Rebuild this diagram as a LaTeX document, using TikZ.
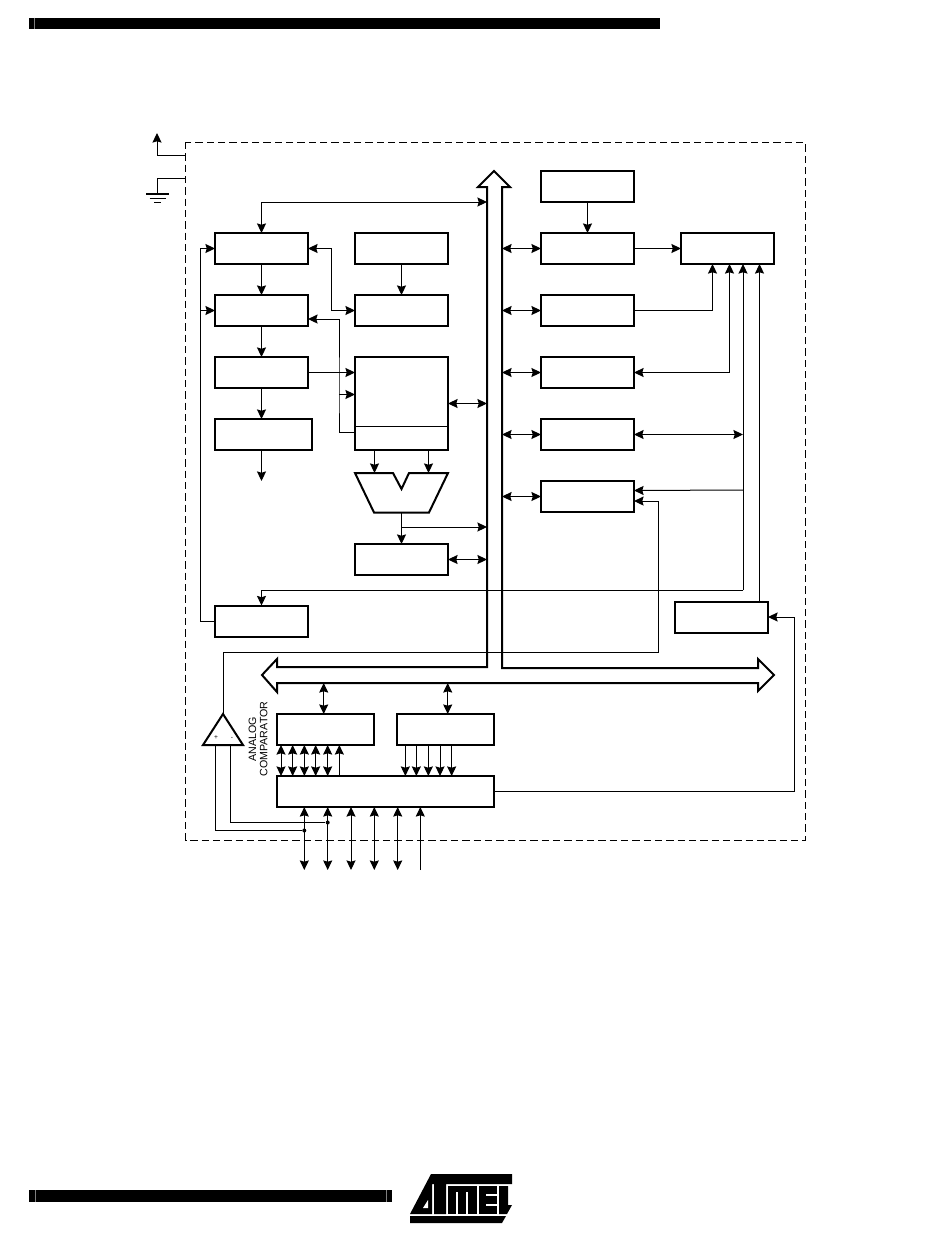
\documentclass[tikz,border=0pt]{standalone}
\usepackage{fontspec}
\setmainfont{Liberation Sans}
\usetikzlibrary{shapes.geometric, arrows, arrows.meta, positioning, calc}

\tikzset{
    blockbox/.style={draw, rectangle, line width=1.5pt, minimum width=69.75pt, minimum height=23.25pt, inner sep=0pt, outer sep=0pt},
    blockline/.style={-, line width=1.5pt, line join=miter},
    dotmark/.style={circle, fill, inner sep=0pt, minimum size=3pt},
    signmark/.style={inner sep=0pt, font=\fontsize{5}{6}\selectfont},
    <->/.style={{Stealth[length=7.2pt,width=6.8pt,inset=1pt]}-{Stealth[length=7.2pt,width=6.8pt,inset=1pt]}}
}

\begin{document}
\begin{tikzpicture}[x=0.75pt, y=-0.75pt, ->, >={Stealth[length=7.2pt,width=6.8pt,inset=1pt]}, node distance=23.25pt, line width=0.75pt]
    \useasboundingbox (0,0) rectangle (950,1246);

    \node[blockbox] (progCounter) at (261.5,248.5) {};
    \node[blockbox] (progFlash) [below=of progCounter] {};
    \node[blockbox] (instrReg) [below=of progFlash] {};
    \node[blockbox, minimum width=72.75pt] (instrDecoder) [below=of instrReg.south west, anchor=north west] {};
    \node[blockbox] (stackPtr) [right=35.25pt of progCounter] {};
    \node[blockbox] (sramBox) [below=of stackPtr] {};
    \node[blockbox, minimum height=69.75pt] (regFile) [below=of sramBox] {};
    \node[blockbox] (statusReg) [below=70.5pt of regFile] {};
    \node[blockbox] (timingBox) [right=69.75pt of stackPtr] {};
    \node[blockbox] (progLogic) [above=of timingBox] {};
    \node[blockbox] (mcuBox) [below=of timingBox] {};
    \node[blockbox] (timerBox) [below=of mcuBox] {};
    \node[blockbox] (eepromBox) [below=of timerBox] {};
    \node[blockbox] (spiBox) [below=of eepromBox] {};
    \node[blockbox] (interruptBox) [right=35.25pt of timingBox] {};
    \node[blockbox] (resetBox) at (261.5,621) {};
    \node[blockbox] (oscBox) at (721.5,617) {};
    \node[blockbox, minimum width=72.75pt] (dataReg) at (325.5,729.5) {};
    \node[blockbox, minimum width=72.75pt] (dirReg) [right=17.25pt of dataReg] {};
    \node[blockbox, minimum width=162.75pt] (portBox) [below=of dataReg.south west, anchor=north west] {};
    \node[draw, line width=1.5pt, isosceles triangle, isosceles triangle stretches, shape border rotate=90, minimum width=30pt, minimum height=23.25pt, inner sep=0pt, outer sep=0pt, anchor=apex] (comparator) at (223,714) {};

    \node[signmark] (plusSign) at (216,738) {+};
    \node[signmark] (minusSign) at (232,738) {-};
    \node[rotate=90, align=center, inner sep=0pt, font=\fontsize{8}{8.4}\selectfont] (cmpLabel) at (258,739) {ANALOG\\COMPARATOR};

    \coordinate (busL) at (487,300);
    \coordinate (busR) at (502,300);
    \coordinate (busTop) at (487,202);
    \coordinate (dataTap) at (323.7,683);
    \coordinate (dirTap) at (447.7,683);
    \coordinate (aluLeft) at (374.5,473);
    \coordinate (aluRight) at (428.5,473);
    \coordinate (aluOut) at (401.5,512.5);
    \coordinate (aluTap) at (401.5,527);
    \coordinate (railTop) at (200,248.5);
    \coordinate (sramRail) at (331.5,280);
    \coordinate (regsRail) at (339,394.5);
    \coordinate (decoderOut) at (261.5,481);
    \coordinate (linkA) at (743,590);
    \coordinate (linkB) at (759.5,602);
    \coordinate (linkTap) at (743,490);
    \coordinate (cmpRun) at (658.5,652.5);
    \coordinate (oscRun) at (794.5,617);
    \coordinate (vccTap) at (185,155);
    \coordinate (vccTop) at (157,133);
    \coordinate (gndTap) at (185,178.5);
    \coordinate (gndMid) at (157,193.5);
    \coordinate (cmpPlus) at (215.7,745);
    \coordinate (cmpMinus) at (230.7,745);
    \coordinate (pinA) at (304.3,870);
    \coordinate (pinB) at (327.7,870);
    \coordinate (pinC) at (351,870);
    \coordinate (pinD) at (374.3,870);
    \coordinate (pinE) at (397.7,870);
    \coordinate (pinF) at (420.3,870);
    \node[dotmark] (dotA) at (304.3,830.5) {};
    \node[dotmark] (dotB) at (327.7,822.5) {};

    \draw[-, dashed, dash pattern=on 5.5pt off 3pt] (185.5,142) rectangle (805,840);
    \draw[blockline] (494,171) -- (510,187) -- (502,187) -- (502,668) -- (758,668) -- (758,659) -- (774,675) -- (758,691) -- (758,683) -- (277,683) -- (277,692) -- (262,675) -- (277,659) -- (277,667) -- (487,667) -- (487,187) -- (478,187) -- cycle;
    \draw[blockline] (355,473) -- (393,473) -- (401.5,489) -- (409,473) -- (448,473) -- (429,512.5) -- (374,512.5) -- cycle;

    \draw[<->] (progCounter.north) |- (busTop);
    \draw[<->] (progCounter.east) -| (sramRail) |- (sramBox.west);
    \draw (resetBox.west) -| (railTop) -- (progCounter.west);
    \draw ([yshift=-22.1pt]regFile.west) -| (regsRail) |- ([yshift=-6.4pt]progFlash.east);
    \draw[-] ([yshift=-17.6pt]regFile.west) -- ([yshift=-17.6pt]regFile.east);
    \draw (aluOut) -- (statusReg.north);
    \draw (linkA) -| (resetBox.north);
    \draw (linkA) -- (linkA |- interruptBox.south);
    \draw (linkB) -- (linkB |- interruptBox.south);
    \draw (mcuBox.east) -| ([xshift=-11.25pt]interruptBox.south);
    \draw[<->] ([xshift=1.5pt]interruptBox.south) |- (timerBox.east);
    \draw (comparator.apex) |- (cmpRun) |- ([yshift=-3.4pt]spiBox.east);
    \draw (portBox.east) -| (oscRun) -- (oscBox.east);
    \draw (vccTap) -| (vccTop);
    \draw[-] (gndTap) -| (gndMid);
    \draw[-] (cmpPlus) |- (dotA);
    \draw[-] (cmpMinus) |- (dotB);
    \draw[-, line width=1.3pt] (146,194) -- (169,194);
    \draw[-, line width=1.3pt] (149.5,198.5) -- (165.5,198.5);
    \draw[-, line width=1.3pt] (154,202.5) -- (161,202.5);

    \path
    (progCounter) edge (progFlash)
    (progFlash) edge (instrReg)
    (instrReg.south) edge (instrReg.south |- instrDecoder.north)
    (instrReg.south |- instrDecoder.south) edge (decoderOut)
    (stackPtr) edge (sramBox)
    (instrReg.east) edge (instrReg.east -| regFile.west)
    (railTop |- progFlash) edge (progFlash.west)
    (regsRail) edge (regsRail -| regFile.west)
    (regFile.east) edge[<->] (regFile.east -| busL)
    (aluLeft |- regFile.south) edge (aluLeft)
    (aluRight |- regFile.south) edge (aluRight)
    (aluTap) edge (aluTap -| busL)
    (statusReg.east) edge[<->] (statusReg.east -| busL)
    (progLogic) edge (timingBox)
    (timingBox) edge (interruptBox)
    (busR |- timingBox) edge[<->] (timingBox.west)
    (busR |- mcuBox) edge[<->] (mcuBox.west)
    (busR |- timerBox) edge[<->] (timerBox.west)
    (busR |- eepromBox) edge[<->] (eepromBox.west)
    (busR |- spiBox) edge[<->] (spiBox.west)
    (eepromBox.east) edge[<->] (eepromBox.east -| linkA)
    (linkTap) edge ([yshift=4.5pt]spiBox.east)
    (dataTap) edge[<->] (dataTap |- dataReg.north)
    (dirTap) edge[<->] (dirTap |- dirReg.north)
    ([xshift=3pt]dataReg.south west) edge[<->] ([xshift=3pt]portBox.north west)
    ([xshift=11.75pt]dataReg.south west) edge[<->] ([xshift=11.75pt]portBox.north west)
    ([xshift=20.5pt]dataReg.south west) edge[<->] ([xshift=20.5pt]portBox.north west)
    ([xshift=29pt]dataReg.south west) edge[<->] ([xshift=29pt]portBox.north west)
    ([xshift=38pt]dataReg.south west) edge[<->] ([xshift=38pt]portBox.north west)
    ([xshift=46.75pt]portBox.north west) edge ([xshift=46.75pt]dataReg.south west)
    ([xshift=6.25pt]dirReg.south west) edge ([xshift=96.25pt]portBox.north west)
    ([xshift=14.5pt]dirReg.south west) edge ([xshift=104.5pt]portBox.north west)
    ([xshift=23.5pt]dirReg.south west) edge ([xshift=113.5pt]portBox.north west)
    ([xshift=32.25pt]dirReg.south west) edge ([xshift=122.25pt]portBox.north west)
    ([xshift=41pt]dirReg.south west) edge ([xshift=131pt]portBox.north west)
    (pinA) edge[<->] (pinA |- portBox.south)
    (pinB) edge[<->] (pinB |- portBox.south)
    (pinC) edge[<->] (pinC |- portBox.south)
    (pinD) edge[<->] (pinD |- portBox.south)
    (pinE) edge[<->] (pinE |- portBox.south)
    (pinF) edge (pinF |- portBox.south);

    \fill (29,17.5) rectangle (659.5,29);
    \fill (29,1190) rectangle (392,1202);
    \draw[-, gray] (34.5,17.5) -- (34.5,29);
    \draw[-, gray] (35,1190) -- (35,1202);
    \draw[-, gray] (386,1190) -- (386,1202);

    \fill (431,1174) -- (512,1174) -- (512,1184) -- (446,1184) -- (446,1214) -- (434,1214) -- (434,1184) -- (432,1184) -- (432,1214) -- (410,1214) -- cycle;
    \fill[white] (423,1208) -- (428,1208) -- (428,1200) -- cycle;
    \fill (447.5,1186) -- (477,1186) -- (477,1214) -- (447.5,1214) -- cycle;
    \draw[-, white, line width=1pt] (457,1192) -- (457,1214);
    \draw[-, white, line width=1pt] (467,1192) -- (467,1214);
    \fill (479,1186) -- (497,1186) -- (497,1214) -- (479,1214) -- cycle;
    \draw[-, white, line width=1pt] (486,1195) -- (497,1195);
    \draw[-, white, line width=1pt] (486,1205) -- (497,1205);
    \fill (499,1186) -- (508,1186) -- (508,1205) -- (512,1205) -- (507,1214) -- (499,1214) -- cycle;
    \fill (410,1216) -- (506,1216) -- (502,1223) -- (410,1223) -- cycle;
\end{tikzpicture}
\end{document}
